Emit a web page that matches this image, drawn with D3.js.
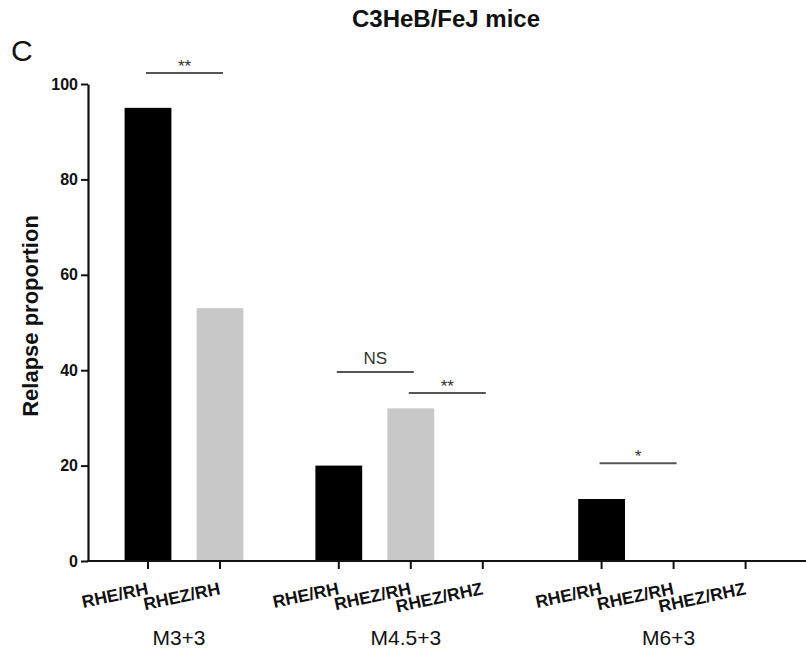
<!DOCTYPE html>
<html>
<head>
<meta charset="utf-8">
<script src="https://cdn.jsdelivr.net/npm/d3@7/dist/d3.min.js"></script>
<style>
  html, body { margin: 0; padding: 0; background: #fff; }
  svg { display: block; font-family: "Liberation Sans", Arial, Helvetica, sans-serif; }
</style>
</head>
<body>
<svg id="chart" width="806" height="655"></svg>
<script>
// ---- data ----
const groups = ["M3+3", "M4.5+3", "M6+3"];
const groupCategories = [
  ["RHE/RH", "RHEZ/RH"],
  ["RHE/RH", "RHEZ/RH", "RHEZ/RHZ"],
  ["RHE/RH", "RHEZ/RH", "RHEZ/RHZ"]
];
const groupValues = [
  [95, 53],
  [20, 32, 0],
  [13, 0, 0]
];
const yTicks = [0, 20, 40, 60, 80, 100];
// comparisons: group index, from item, to item, bracket height (y units), label
const compGroup = [0, 1, 1, 2];
const compFrom  = [0, 0, 1, 0];
const compTo    = [1, 1, 2, 1];
const compY     = [102.3, 39.6, 35.2, 20.5];
const compLabel = ["**", "NS", "**", "*"];

const title = "C3HeB/FeJ mice";
const yTitle = "Relapse proportion";
const panelLetter = "C";

// ---- layout ----
const svg = d3.select("#chart");
const plotLeft = 88, plotRight = 806, plotTop = 84, plotBottom = 561;
const groupGap = 0.65;     // extra slots between groups
const barFrac = 0.65;

// build items with slot positions
const items = [];
let slot = 0;
groups.forEach((g, gi) => {
  groupCategories[gi].forEach((c, ci) => {
    items.push({ group: g, gi, ci, cat: c, value: groupValues[gi][ci], slot: slot + gi * groupGap });
    slot++;
  });
});

const x = d3.scaleLinear().domain([0, 1]).range([148, 220]);
const y = d3.scaleLinear().domain([0, 100]).range([plotBottom, plotTop]);
const step = x(1) - x(0);
const bw = step * barFrac;

const colorFor = ci => (ci === 0 ? "#000000" : "#c8c8c8");

// bars
svg.append("g").selectAll("rect").data(items).join("rect")
  .attr("x", d => x(d.slot) - bw / 2)
  .attr("y", d => y(d.value))
  .attr("width", bw)
  .attr("height", d => y(0) - y(d.value))
  .attr("fill", d => colorFor(d.ci));

// y axis
const yAxis = d3.axisLeft(y).tickValues(yTicks).tickSize(7).tickPadding(3).tickSizeOuter(0);
const gy = svg.append("g").attr("transform", `translate(${plotLeft},0)`).call(yAxis);
gy.select(".domain").attr("stroke", "#111").attr("stroke-width", 2.2);
gy.selectAll(".tick line").attr("stroke", "#111").attr("stroke-width", 2);
gy.selectAll(".tick text").attr("font-size", 16).attr("font-weight", "bold").attr("fill", "#111");

// x axis line
svg.append("line")
  .attr("x1", plotLeft - 1).attr("x2", plotRight)
  .attr("y1", y(0)).attr("y2", y(0))
  .attr("stroke", "#111").attr("stroke-width", 2.2);

// x ticks
svg.append("g").selectAll("line").data(items).join("line")
  .attr("x1", d => x(d.slot)).attr("x2", d => x(d.slot))
  .attr("y1", y(0)).attr("y2", y(0) + 8)
  .attr("stroke", "#111").attr("stroke-width", 2);

// x tick labels (rotated)
svg.append("g").selectAll("text").data(items).join("text")
  .attr("transform", d => `translate(${x(d.slot) + 1},${y(0) + 33}) rotate(-12)`)
  .attr("text-anchor", "end")
  .attr("font-size", 17.5)
  .attr("font-weight", "bold")
  .attr("fill", "#111")
  .text(d => d.cat);

// group labels
groups.forEach((g, gi) => {
  const its = items.filter(d => d.gi === gi);
  const cx = (x(its[0].slot) + x(its[its.length - 1].slot)) / 2;
  svg.append("text")
    .attr("x", cx - 5)
    .attr("y", 645)
    .attr("text-anchor", "middle")
    .attr("font-size", 21)
    .attr("fill", "#111")
    .text(g);
});

// significance brackets
compGroup.forEach((gi, k) => {
  const a = items.find(d => d.gi === gi && d.ci === compFrom[k]);
  const b = items.find(d => d.gi === gi && d.ci === compTo[k]);
  const x1 = x(a.slot) - 2, x2 = x(b.slot) + 3;
  const yy = y(compY[k]);
  svg.append("line")
    .attr("x1", x1).attr("x2", x2).attr("y1", yy).attr("y2", yy)
    .attr("stroke", "#555").attr("stroke-width", 2);
  const isNS = compLabel[k] === "NS";
  svg.append("text")
    .attr("x", (x1 + x2) / 2)
    .attr("y", isNS ? yy - 8 : yy - 1)
    .attr("text-anchor", "middle")
    .attr("font-size", 17)
    .attr("fill", "#333")
    .text(compLabel[k]);
});

// y title
svg.append("text")
  .attr("transform", `translate(38,316) rotate(-90)`)
  .attr("text-anchor", "middle")
  .attr("font-size", 22)
  .attr("font-weight", "bold")
  .attr("fill", "#111")
  .text(yTitle);

// title
svg.append("text")
  .attr("x", 446).attr("y", 27)
  .attr("text-anchor", "middle")
  .attr("font-size", 24)
  .attr("font-weight", "bold")
  .attr("fill", "#111")
  .text(title);

// panel letter
svg.append("text")
  .attr("x", 11).attr("y", 61)
  .attr("font-size", 30)
  .attr("fill", "#111")
  .text(panelLetter);
</script>
</body>
</html>
